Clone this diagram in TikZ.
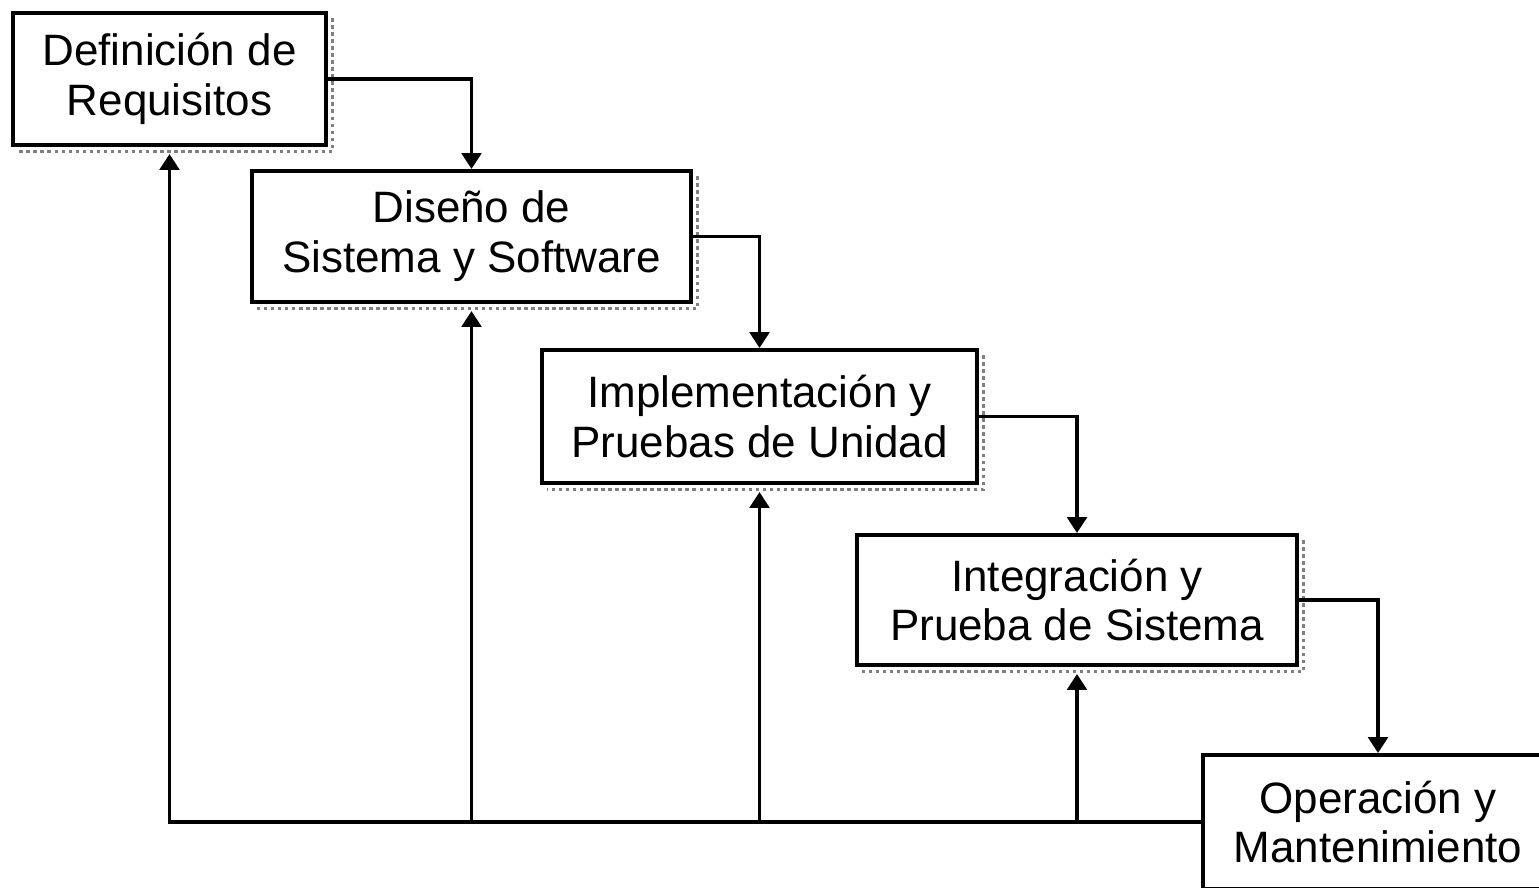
\documentclass[tikz,border=0pt]{standalone}
\usepackage{fontspec}
\setmainfont{Liberation Sans}
\usetikzlibrary{arrows.meta}

\begin{document}
\begin{tikzpicture}[
    x=0.01cm, y=-0.01cm,
    stage/.style={rectangle, draw, line width=1.1pt, fill=white, align=center,
        inner sep=0pt, font=\fontsize{12.5}{14.2}\selectfont},
    flow/.style={draw, line width=1.1pt, -{Triangle[width=5.5pt, length=4.5pt]}},
    shade/.style={draw=gray, line width=1pt, dash pattern=on 1pt off 1pt}
]
\useasboundingbox (0,0) rectangle (1539,887);

% stages of the cascade
\node (Requisitos) [stage, minimum width=3.13cm, minimum height=1.32cm] at (169.5,79)
  {Definición de\\Requisitos};
\node (Diseno) [stage, minimum width=4.39cm, minimum height=1.31cm] at (471.5,236.5)
  {Diseño de\\Sistema y Software};
\node (Implementacion) [stage, minimum width=4.35cm, minimum height=1.33cm] at (759.5,416.5)
  {Implementación y\\Pruebas de Unidad};
\node (Integracion) [stage, minimum width=4.40cm, minimum height=1.30cm] at (1077,600)
  {Integración y\\Prueba de Sistema};
\node (Operacion) [stage, minimum width=3.50cm, minimum height=1.34cm] at (1378,822)
  {Operación y\\Mantenimiento};

% dotted shadows
\foreach \stagename in {Requisitos, Diseno, Implementacion, Integracion} {
  \draw[shade] ([xshift=0.045cm, yshift=-0.07cm]\stagename.north east)
    -- ([xshift=0.045cm, yshift=-0.045cm]\stagename.south east)
    -- ([xshift=0.07cm, yshift=-0.045cm]\stagename.south west);
}

% downward flow
\draw[flow] (Requisitos.east) -| (Diseno.north);
\draw[flow] (Diseno.east) -| (Implementacion.north);
\draw[flow] (Implementacion.east) -| (Integracion.north);
\draw[flow] (Integracion.east) -| (Operacion.north);

% feedback rail
\draw[flow, shorten >=0.07cm] (Operacion.west) -| (Requisitos.south);
\draw[flow, shorten >=0.07cm] (Operacion.west -| Diseno.south) -- (Diseno.south);
\draw[flow, shorten >=0.07cm] (Operacion.west -| Implementacion.south) -- (Implementacion.south);
\draw[flow, shorten >=0.07cm] (Operacion.west -| Integracion.south) -- (Integracion.south);

\end{tikzpicture}
\end{document}
